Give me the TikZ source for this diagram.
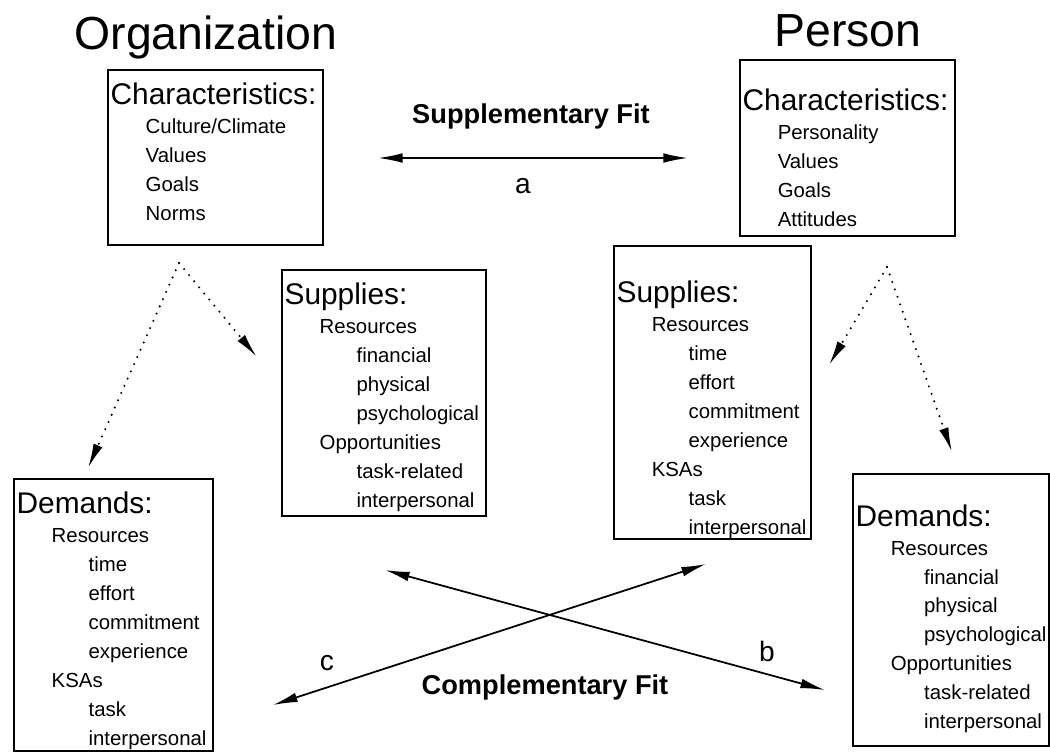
\documentclass[tikz,border=0pt]{standalone}
\usepackage{fontspec}
\setmainfont{Liberation Sans}
\usetikzlibrary{arrows.meta}
\tikzset{>={Latex[length=14pt,width=5.5pt]}}

\newcommand{\hd}[1]{{\fontsize{17}{17}\selectfont #1}}
\newcommand{\lvA}{\hspace*{21.5pt}}
\newcommand{\lvB}{\hspace*{42.5pt}}
\newcommand{\fitlist}[4]{\parbox[t][#2][t]{#1}{\hyphenpenalty=10000 \exhyphenpenalty=10000
    \hbadness=10000 \hfuzz=20pt \vspace*{#3}#4}}

\begin{document}
\begin{tikzpicture}[x=0.02cm, y=-0.02cm,
    fitbox/.style={draw, line width=1.1pt, rectangle, inner sep=0pt, anchor=north west,
        font=\fontsize{11.6}{16.5}\selectfont},
    title/.style={font=\fontsize{26.4}{30}\selectfont},
    fitlabel/.style={font=\bfseries\fontsize{15.5}{18}\selectfont},
    letter/.style={font=\fontsize{16}{18}\selectfont},
    fitarrow/.style={<->, line width=1pt},
    dotarrow/.style={->, line width=1.3pt, line cap=round, dash pattern=on 0pt off 4.5pt}]
    \useasboundingbox (0,0) rectangle (1050,752);

    % Titles
    \node[title] (org) at (206,37) {Organization};
    \node[title] (per) at (848,31) {Person};

    % Characteristics
    \node[fitbox] (orgchar) at (107,69) {\fitlist{4.3cm}{3.5cm}{7.1pt}{\hspace*{1.5pt}\hd{Characteristics:}\\
        \lvA Culture/Climate\\ \lvA Values\\ \lvA Goals\\ \lvA Norms}};
    \node[fitbox] (perchar) at (739,59) {\fitlist{4.3cm}{3.52cm}{16.7pt}{\hspace*{1.5pt}\hd{Characteristics:}\\
        \lvA Personality\\ \lvA Values\\ \lvA Goals\\ \lvA Attitudes}};

    % Supplies
    \node[fitbox] (orgsup) at (281,269) {\fitlist{4.08cm}{4.92cm}{7.1pt}{\hspace*{1.5pt}\hd{Supplies:}\\
        \lvA Resources\\ \lvB financial\\ \lvB physical\\ \lvB psychological\\
        \lvA Opportunities\\ \lvB task-related\\ \lvB interpersonal}};
    \node[fitbox] (persup) at (613,245) {\fitlist{3.94cm}{5.86cm}{20.1pt}{\hspace*{1.5pt}\hd{Supplies:}\\
        \lvA Resources\\ \lvB time\\ \lvB effort\\ \lvB commitment\\ \lvB experience\\
        \lvA KSAs\\ \lvB task\\ \lvB interpersonal}};

    % Demands
    \node[fitbox] (orgdem) at (13,478) {\fitlist{3.98cm}{5.44cm}{7.1pt}{\hspace*{1.5pt}\hd{Demands:}\\
        \lvA Resources\\ \lvB time\\ \lvB effort\\ \lvB commitment\\ \lvB experience\\
        \lvA KSAs\\ \lvB task\\ \lvB interpersonal}};
    \node[fitbox] (perdem) at (852,473) {\fitlist{3.92cm}{5.44cm}{17.3pt}{\hspace*{1.5pt}\hd{Demands:}\\
        \lvA Resources\\ \hspace*{40.5pt}financial\\ \hspace*{40.5pt}physical\\ \hspace*{40.5pt}psychological\\
        \lvA Opportunities\\ \hspace*{40.5pt}task-related\\ \hspace*{40.5pt}interpersonal}};

    % Supplementary fit
    \coordinate (sa) at (378,158);
    \coordinate (sb) at (688,158);
    \draw[fitarrow] (sa) -- (sb);
    \node[fitlabel] (supfit) at (531,116) {Supplementary Fit};
    \node[letter] (lbla) at (523,186) {a};

    % Complementary fit
    \coordinate (ba) at (385,570);
    \coordinate (bb) at (825,690);
    \coordinate (ca) at (273,705);
    \coordinate (cb) at (706,564);
    \draw[fitarrow] (ba) -- (bb);
    \draw[fitarrow] (ca) -- (cb);
    \node[fitlabel] (comfit) at (545,687) {Complementary Fit};
    \node[letter] (lblb) at (767,651) {b};
    \node[letter] (lblc) at (327,663) {c};

    % Dotted forks
    \coordinate (orgfork) at (179,263);
    \coordinate (orgtodem) at (88,468);
    \coordinate (orgtosup) at (257,357);
    \draw[dotarrow] (orgfork) -- (orgtodem);
    \draw[dotarrow] (orgfork) -- (orgtosup);
    \coordinate (perfork) at (887,267);
    \coordinate (pertosup) at (829,365);
    \coordinate (pertodem) at (952,452);
    \draw[dotarrow] (perfork) -- (pertosup);
    \draw[dotarrow] (perfork) -- (pertodem);
\end{tikzpicture}
\end{document}
